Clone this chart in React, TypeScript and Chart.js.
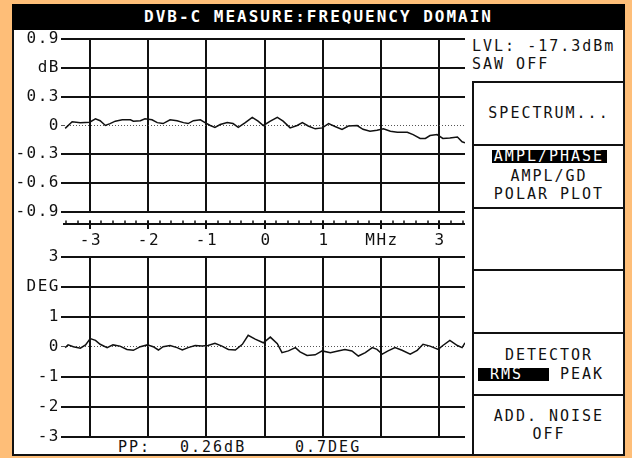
import React, { useEffect, useRef } from "react";
import { Chart, registerables } from "chart.js";

Chart.register(...registerables);

// ---- axis data ----
const freqMin = -3.44;
const freqMax = 3.44;
const freqTicks = [-3, -2, -1, 0, 1, 2, 3];
const freqTickLabels = ["-3", "-2", "-1", "0", "1", "MHz", "3"];

const ampTicks = [-0.9, -0.6, -0.3, 0, 0.3, 0.6, 0.9];
const ampTickLabels = ["-0.9", "-0.6", "-0.3", "0", "0.3", "dB", "0.9"];

const phaseTicks = [-3, -2, -1, 0, 1, 2, 3];
const phaseTickLabels = ["-3", "-2", "-1", "0", "1", "DEG", "3"];

// ---- series: amplitude (dB) ----
const ampFreq = [
  -3.42, -3.3, -3.16, -3.0, -2.9, -2.82, -2.73, -2.65, -2.56, -2.44, -2.3, -2.25, -2.13, -2.05,
  -1.93, -1.84, -1.74, -1.62, -1.5, -1.39, -1.31, -1.22, -1.1, -1.02, -0.93, -0.85, -0.76, -0.64,
  -0.54, -0.45, -0.33, -0.21, -0.11, -0.02, 0.1, 0.22, 0.32, 0.44, 0.56, 0.65, 0.75, 0.87, 0.99,
  1.1, 1.21, 1.33, 1.44, 1.59, 1.69, 1.81, 1.93, 2.04, 2.16, 2.28, 2.45, 2.55, 2.67, 2.76, 2.84,
  2.96, 3.06, 3.18, 3.31, 3.39, 3.44,
];
const ampDb = [
  -0.03, 0.04, 0.03, 0.035, 0.07, 0.05, 0.0, 0.02, 0.045, 0.06, 0.06, 0.045, 0.05, 0.07,
  0.06, 0.03, 0.02, 0.06, 0.05, 0.03, 0.02, 0.05, 0.06, 0.03, 0.0, -0.02, 0.01, 0.03,
  0.02, -0.02, 0.03, 0.085, 0.045, 0.0, 0.045, 0.085, 0.045, -0.025, 0.0, 0.03, -0.005, -0.035, -0.025,
  0.02, -0.01, -0.04, -0.005, 0.0, -0.04, -0.06, -0.05, -0.035, -0.06, -0.07, -0.07, -0.095, -0.135, -0.135, -0.105,
  -0.095, -0.135, -0.13, -0.12, -0.17, -0.18,
];

// ---- series: phase (deg) ----
const phaseFreq = [
  -3.42, -3.37, -3.28, -3.16, -3.07, -2.99, -2.9, -2.82, -2.7, -2.6, -2.48, -2.36, -2.25, -2.13,
  -2.01, -1.91, -1.82, -1.74, -1.62, -1.5, -1.41, -1.31, -1.19, -1.07, -0.97, -0.85, -0.73, -0.62,
  -0.5, -0.38, -0.28, -0.16, -0.02, 0.1, 0.22, 0.3, 0.41, 0.53, 0.61, 0.73, 0.87, 0.99, 1.13,
  1.26, 1.38, 1.5, 1.61, 1.73, 1.85, 1.93, 2.02, 2.12, 2.24, 2.36, 2.5, 2.62, 2.72, 2.84, 2.98,
  3.06, 3.18, 3.31, 3.39, 3.44,
];
const phaseDeg = [
  -0.03, 0.06, 0.0, -0.05, 0.06, 0.27, 0.21, 0.08, -0.03, 0.06, 0.02, -0.09, -0.12, 0.0,
  0.06, 0.0, -0.11, 0.0, 0.04, -0.03, -0.11, -0.03, 0.04, 0.02, 0.04, 0.11, 0.02, -0.09,
  -0.11, 0.08, 0.38, 0.25, 0.13, 0.32, 0.1, -0.2, -0.14, -0.03, -0.17, -0.29, -0.27, -0.14, -0.2,
  -0.14, -0.09, -0.14, -0.31, -0.2, -0.03, -0.09, -0.25, -0.14, -0.03, -0.12, -0.25, -0.12, 0.08, 0.02, -0.09,
  0.04, 0.21, 0.04, -0.03, 0.13,
];

const INK = "#111111";
const ORANGE = "#FEBE78";
const MONO = '"DejaVu Sans Mono", monospace';

const spacingPlugin = {
  id: "spacing",
  beforeDraw(chart: any) {
    (chart.ctx as any).letterSpacing = "1.5px";
  },
};

const mhzAxisPlugin = {
  id: "mhzAxis",
  afterDraw(chart: any) {
    const { ctx, chartArea } = chart;
    const xs = chart.scales.x;
    const y = Math.round(chartArea.bottom + 12.5);
    ctx.save();
    ctx.strokeStyle = INK;
    ctx.lineWidth = 2;
    ctx.beginPath();
    ctx.moveTo(chartArea.left - 1, y);
    ctx.lineTo(chartArea.right, y);
    ctx.stroke();
    ctx.lineWidth = 1.5;
    for (let k = -17; k <= 17; k++) {
      const px = Math.round(xs.getPixelForValue(k * 0.2));
      ctx.beginPath();
      ctx.moveTo(px, y - 3.5);
      ctx.lineTo(px, y);
      ctx.stroke();
    }
    ctx.lineWidth = 2;
    ctx.fillStyle = INK;
    ctx.font = `16px ${MONO}`;
    (ctx as any).letterSpacing = "1.5px";
    ctx.textAlign = "center";
    ctx.textBaseline = "middle";
    freqTicks.forEach((v, i) => {
      const px = Math.round(xs.getPixelForValue(v));
      ctx.beginPath();
      ctx.moveTo(px, y - 3.5);
      ctx.lineTo(px, y + 5);
      ctx.stroke();
      ctx.fillText(freqTickLabels[i], px + 1, y + 17);
    });
    ctx.restore();
  },
};

function buildOptions(yTicks: number[], yLabels: string[], padTop: number, padBottom: number) {
  const lo = yTicks[0];
  const hi = yTicks[yTicks.length - 1];
  return {
    responsive: false,
    animation: false as const,
    layout: { padding: { left: 0, right: 5, top: padTop, bottom: padBottom } },
    plugins: { legend: { display: false }, tooltip: { enabled: false } },
    scales: {
      x: {
        type: "linear" as const,
        min: freqMin,
        max: freqMax,
        afterBuildTicks: (s: any) => {
          s.ticks = freqTicks.map((v) => ({ value: v }));
        },
        ticks: { display: false },
        grid: { color: INK, lineWidth: 2, drawTicks: false },
        border: { display: false },
      },
      y: {
        type: "linear" as const,
        min: lo,
        max: hi,
        afterBuildTicks: (s: any) => {
          s.ticks = yTicks.map((v) => ({ value: v }));
        },
        afterFit: (s: any) => {
          s.width = 51;
        },
        ticks: {
          color: INK,
          padding: 1,
          font: { family: MONO, size: 16 },
          callback: (_v: any, i: number) => yLabels[i],
        },
        grid: {
          color: (c: any) => (c.tick && c.tick.value === 0 ? "#555" : INK),
          lineWidth: (c: any) => (c.tick && c.tick.value === 0 ? 1 : 2),
          tickLength: 3,
          drawTicks: true,
        },
        border: {
          display: false,
          dash: (c: any) => (c.tick && c.tick.value === 0 ? [1, 2] : []),
        },
      },
    },
  };
}

function lineDataset(xs: number[], ys: number[]) {
  return {
    data: xs.map((x, i) => ({ x, y: ys[i] })),
    borderColor: INK,
    borderWidth: 1.5,
    pointRadius: 0,
    tension: 0,
    fill: false,
  };
}

const abs = (l: number, t: number, w: number, h: number, extra: any = {}) => ({
  position: "absolute" as const,
  left: l,
  top: t,
  width: w,
  height: h,
  ...extra,
});

function Txt(props: { x: number; y: number; w?: number; center?: boolean; inv?: boolean; children: any }) {
  const { x, y, w, center, inv, children } = props;
  return (
    <div
      style={{
        position: "absolute",
        left: x,
        top: y - 9,
        width: w,
        height: 18,
        lineHeight: "18px",
        fontFamily: MONO,
        fontSize: 15,
        letterSpacing: "2px",
        color: inv ? "#fff" : INK,
        textAlign: center ? "center" : "left",
        whiteSpace: "pre",
      }}
    >
      {children}
    </div>
  );
}

export default function App() {
  const topRef = useRef<HTMLCanvasElement>(null);
  const botRef = useRef<HTMLCanvasElement>(null);

  useEffect(() => {
    const top = new Chart(topRef.current as HTMLCanvasElement, {
      type: "line",
      data: { datasets: [lineDataset(ampFreq, ampDb)] },
      options: buildOptions(ampTicks, ampTickLabels, 14.3, 38.3) as any,
      plugins: [spacingPlugin, mhzAxisPlugin],
    });
    const bot = new Chart(botRef.current as HTMLCanvasElement, {
      type: "line",
      data: { datasets: [lineDataset(phaseFreq, phaseDeg)] },
      options: buildOptions(phaseTicks, phaseTickLabels, 12.7, 15.3) as any,
      plugins: [spacingPlugin],
    });
    return () => {
      top.destroy();
      bot.destroy();
    };
  }, []);

  const boxLines = [81, 144, 207, 269, 332, 394];

  return (
    <div style={{ position: "fixed", left: 0, top: 0, width: 632, height: 458, background: ORANGE, overflow: "hidden" }}>
      {/* screen */}
      <div style={abs(12, 4, 613, 452, { background: "#fff", border: `2px solid ${INK}`, boxSizing: "border-box" })} />
      {/* title bar */}
      <div
        style={abs(12, 4, 613, 26, {
          background: "#000",
          color: "#fff",
          fontFamily: MONO,
          fontWeight: "bold",
          fontSize: 16,
          letterSpacing: "2px",
          lineHeight: "26px",
          textAlign: "center",
          whiteSpace: "pre",
        })}
      >
        DVB-C MEASURE:FREQUENCY DOMAIN
      </div>

      {/* right panel frame */}
      <div style={abs(472, 81, 2, 374, { background: INK })} />
      {boxLines.map((y) => (
        <div key={y} style={abs(472, y, 152, 2, { background: INK })} />
      ))}

      <Txt x={472} y={46}>LVL: -17.3dBm</Txt>
      <Txt x={472} y={64}>SAW OFF</Txt>
      <Txt x={474} y={113} w={150} center>SPECTRUM...</Txt>
      <div style={abs(492, 150, 115, 13, { background: "#000" })} />
      <Txt x={474} y={156} w={150} center inv>AMPL/PHASE</Txt>
      <Txt x={474} y={176} w={150} center>AMPL/GD</Txt>
      <Txt x={474} y={194} w={150} center>POLAR PLOT</Txt>
      <Txt x={474} y={355} w={150} center>DETECTOR</Txt>
      <div style={abs(478, 368, 71, 13, { background: "#000" })} />
      <Txt x={490} y={374} inv>RMS</Txt>
      <Txt x={560} y={374}>PEAK</Txt>
      <Txt x={474} y={416} w={150} center>ADD. NOISE</Txt>
      <Txt x={474} y={434} w={150} center>OFF</Txt>

      <Txt x={118} y={447}>PP:</Txt>
      <Txt x={180} y={447}>0.26dB</Txt>
      <Txt x={295} y={447}>0.7DEG</Txt>

      <canvas ref={topRef} width={457} height={225} style={abs(13, 25, 457, 225)} />
      <canvas ref={botRef} width={457} height={208} style={abs(13, 244, 457, 208)} />
    </div>
  );
}
